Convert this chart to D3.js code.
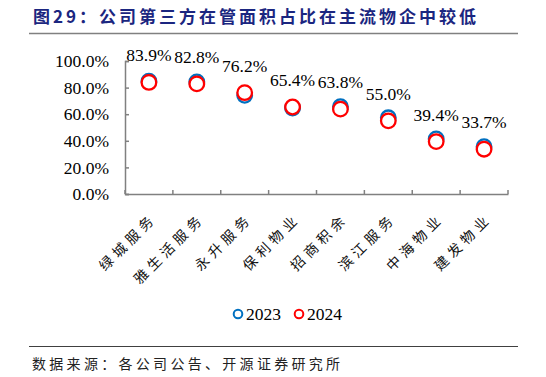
<!DOCTYPE html>
<html><head><meta charset="utf-8">
<script src="https://cdn.jsdelivr.net/npm/d3@7"></script>
<style>body{margin:0;background:#fff;}svg{display:block;}
.serif{font-family:"Liberation Serif","Times New Roman",Times,serif;}
.cjk{font-family:"Noto Sans CJK SC","Noto Sans CJK JP",sans-serif;}
</style>
</head><body>
<script>
const categories = ["绿城服务","雅生活服务","永升服务","保利物业","招商积余","滨江服务","中海物业","建发物业"];
const values2023 = [84.8, 84.3, 74.2, 64.6, 65.6, 57.3, 41.4, 35.6];
const values2024 = [83.9, 82.8, 76.2, 65.4, 63.8, 55.0, 39.4, 33.7];
const yTicks = [0, 20, 40, 60, 80, 100];
const seriesNames = ["2023","2024"];
const seriesColors = ["#0070C0","#FF0000"];

const W = 546, H = 377;
const svg = d3.select("body").append("svg").attr("width", W).attr("height", H);

// title
svg.append("text").attr("class","cjk").attr("x", 33).attr("y", 23)
  .attr("font-weight", "bold").attr("font-size", 17)
  .attr("letter-spacing", 3).attr("fill", "#1B2680")
  .text("图29：公司第三方在管面积占比在主流物企中较低");
svg.append("line").attr("x1", 29).attr("x2", 518).attr("y1", 33.5).attr("y2", 33.5)
  .attr("stroke", "#808080").attr("stroke-width", 1.5);

// footer
svg.append("line").attr("x1", 29).attr("x2", 518).attr("y1", 346.5).attr("y2", 346.5)
  .attr("stroke", "#404040").attr("stroke-width", 1);
svg.append("text").attr("class","cjk").attr("x", 32).attr("y", 369)
  .attr("font-size", 14).attr("letter-spacing", 3.3).attr("fill", "#222")
  .text("数据来源：各公司公告、开源证券研究所");

const x = d3.scaleBand().domain(categories).range([125, 508]);
const y = d3.scaleLinear().domain([0, 100]).range([194, 61]);

// axes
const axisColor = "#808080";
const gy = svg.append("g").attr("transform", "translate(125,0)")
  .call(d3.axisLeft(y).tickValues(yTicks).tickSize(-4).tickPadding(16).tickFormat(d => d.toFixed(1) + "%"));
const gx = svg.append("g").attr("transform", "translate(0,194)")
  .call(d3.axisBottom(x).tickSize(0).tickFormat(""));
gy.attr("font-family", null).attr("font-size", null);
gx.attr("font-family", null).attr("font-size", null);
gy.select(".domain").attr("stroke", axisColor).attr("stroke-width", 1.5);
gy.selectAll(".tick line").attr("stroke", axisColor).attr("stroke-width", 1.5);
gy.selectAll(".tick text").attr("class","serif").style("font-size", "17.5px").attr("fill", "#000");
gx.select(".domain").attr("stroke", axisColor).attr("stroke-width", 1.5);
// category boundary ticks
const bounds = categories.map(c => x(c)).concat([x.range()[1]]);
svg.append("g").selectAll("line").data(bounds).join("line")
  .attr("x1", d => d).attr("x2", d => d).attr("y1", 194).attr("y2", 190)
  .attr("stroke", axisColor).attr("stroke-width", 1.5);

// x labels
svg.append("g").selectAll("text").data(categories).join("text")
  .attr("class","cjk")
  .attr("transform", d => `translate(${x(d) + x.bandwidth()/2 + 5},${216}) rotate(-45)`)
  .attr("text-anchor", "end").attr("dy", "0.35em")
  .attr("font-size", 14).attr("letter-spacing", 4.5).attr("fill", "#111")
  .text(d => d);

// points
const series = [values2023, values2024];
series.forEach((vals, i) => {
  svg.append("g").selectAll("circle").data(vals).join("circle")
    .attr("cx", (d, j) => x(categories[j]) + x.bandwidth()/2)
    .attr("cy", d => y(d))
    .attr("r", 7.3).attr("fill", "#fff")
    .attr("stroke", seriesColors[i]).attr("stroke-width", 2.3);
});

// data labels (2024)
svg.append("g").selectAll("text").data(values2024).join("text")
  .attr("class","serif")
  .attr("x", (d, j) => x(categories[j]) + x.bandwidth()/2)
  .attr("y", d => y(d) - 21)
  .attr("text-anchor", "middle").attr("font-size", 17.5).attr("fill", "#000")
  .text(d => d.toFixed(1) + "%");

// legend
const legX = [238, 299];
seriesNames.forEach((n, i) => {
  svg.append("circle").attr("cx", legX[i]).attr("cy", 314).attr("r", 4.3)
    .attr("fill", "#fff").attr("stroke", seriesColors[i]).attr("stroke-width", 2);
  svg.append("text").attr("class","serif").attr("x", legX[i] + 8).attr("y", 320)
    .attr("font-size", 17.5).attr("fill", "#000").text(n);
});
</script>
</body></html>
